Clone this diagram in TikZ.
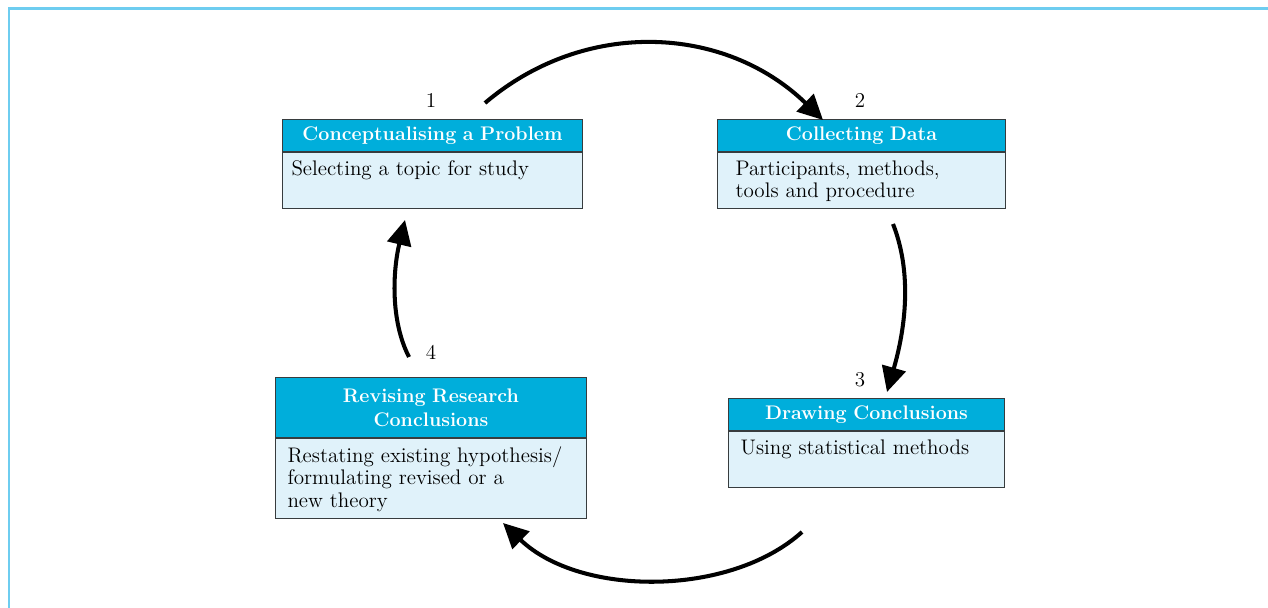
\documentclass[tikz,border=0pt]{standalone}
\usetikzlibrary{positioning,arrows.meta}
\definecolor{headblue}{RGB}{0,174,219}
\definecolor{bodyblue}{RGB}{224,242,250}
\definecolor{edgegray}{RGB}{55,60,62}
\definecolor{frameblue}{RGB}{110,205,240}
\tikzset{
	head/.style={draw=edgegray, line width=0.6pt, fill=headblue, text=white, font=\fontsize{11.2}{13.6}\selectfont\bfseries, align=center, inner sep=0pt, anchor=north west},
	body/.style={draw=edgegray, line width=0.6pt, fill=bodyblue, inner ysep=0pt, font=\fontsize{12}{12.8}\selectfont},
	cyclearrow/.style={line width=2.3pt, -{Triangle[length=0.5cm,width=0.48cm]}},
	frame/.style={draw=frameblue, line width=0.06cm}
}
\newcommand{\bodytext}[3]{\parbox[t][#1][t]{#2}{\vspace*{0.16cm}\raggedright #3}}
\begin{document}
\begin{tikzpicture}[x=0.02cm, y=-0.02cm, font=\fontsize{12}{12.8}\selectfont]
	\useasboundingbox (0,0) rectangle (1268,608);
	\draw[frame] (9,608) -- (9,9) -- (1268,9);
	% box 1
	\node[head, text width=6cm, minimum height=0.64cm] (h1) at (282,119) {Conceptualising a Problem};
	\node[body, inner xsep=0.18cm, below=0pt of h1] (b1) {\bodytext{1.12cm}{5.64cm}{Selecting a topic for study}};
	\node[] (n1) at (431,100) {1};
	% box 2
	\node[head, text width=5.76cm, minimum height=0.64cm] (h2) at (717,119) {Collecting Data};
	\node[body, inner xsep=0.36cm, below=0pt of h2] (b2) {\bodytext{1.12cm}{5.04cm}{Participants, methods,\\ tools and procedure}};
	\node[] (n2) at (860,100) {2};
	% box 3
	\node[head, text width=5.52cm, minimum height=0.64cm] (h3) at (728,398) {Drawing Conclusions};
	\node[body, inner xsep=0.24cm, below=0pt of h3] (b3) {\bodytext{1.12cm}{5.04cm}{Using statistical methods}};
	\node[] (n3) at (860,380) {3};
	% box 4
	\node[head, text width=6.22cm, minimum height=1.2cm] (h4) at (275,377) {Revising Research\\ Conclusions};
	\node[body, inner xsep=0.24cm, below=0pt of h4] (b4) {\bodytext{1.6cm}{5.74cm}{Restating existing hypothesis/\\ formulating revised or a\\ new theory}};
	\node[] (n4) at (431,352) {4};
	% arrows round the cycle
	\coordinate (s12) at (485,103); \coordinate (e12) at (823,120);
	\coordinate (s23) at (893,224); \coordinate (e23) at (887,392);
	\coordinate (s34) at (802,532); \coordinate (e34) at (503,523);
	\coordinate (s41) at (409,357); \coordinate (e41) at (405,220);
	\draw[cyclearrow] (s12) .. controls (585,18) and (725,25) .. (e12);
	\draw[cyclearrow] (s23) .. controls (915,280) and (902,340) .. (e23);
	\draw[cyclearrow] (s34) .. controls (730,597) and (580,597) .. (e34);
	\draw[cyclearrow] (s41) .. controls (390,320) and (393,270) .. (e41);
\end{tikzpicture}
\end{document}
